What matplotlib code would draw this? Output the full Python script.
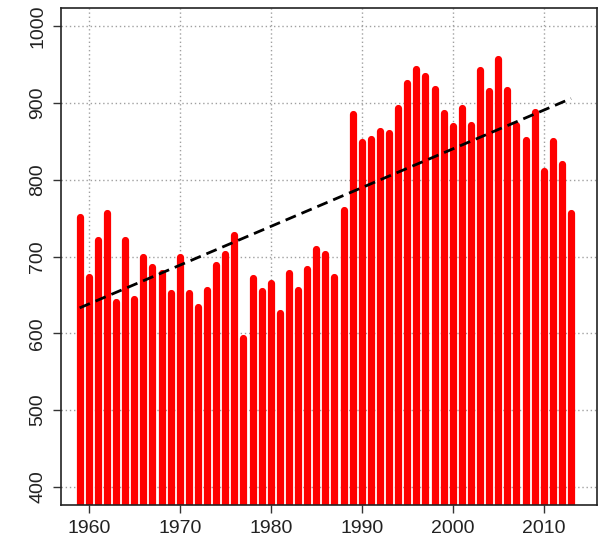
import matplotlib
matplotlib.use("Agg")
import matplotlib.pyplot as plt
import numpy as np

# yearly values
years = np.arange(1959, 2014)
values = [751, 673, 722, 757, 641, 722, 645, 700, 686, 678,
          653, 700, 653, 634, 656, 689, 703, 728, 594, 672,
          655, 666, 626, 679, 656, 684, 710, 703, 673, 760,
          886, 849, 853, 864, 861, 894, 926, 945, 935, 919,
          887, 870, 893, 871, 943, 916, 957, 917, 872, 852,
          888, 811, 850, 820, 757]

# dashed trend line end points
trend_years = [1959, 2013]
trend_values = [633, 906]

xticks = [1960, 1970, 1980, 1990, 2000, 2010]
yticks = [400, 500, 600, 700, 800, 900, 1000]

plt.rcParams['font.family'] = ['Liberation Sans', 'DejaVu Sans']

fig = plt.figure(figsize=(5.99, 5.46), dpi=100)
ax = fig.add_axes([61/599, 41/546, 536/599, 497/546])

ylo, yhi = 376, 1024
ax.set_xlim(1956.95, 2015.85)
ax.set_ylim(ylo, yhi)

for x in xticks:
    ax.axvline(x, color='#a0a0a0', linestyle=(0, (1, 2)), linewidth=1, zorder=1)
for y in yticks:
    ax.axhline(y, color='#a0a0a0', linestyle=(0, (1, 2)), linewidth=1, zorder=1)

ax.vlines(years, ylo, values, colors='#ff0000', linewidth=5.2,
          capstyle='round', zorder=2)
ax.plot(trend_years, trend_values, color='black', linewidth=2,
        linestyle=(0, (4, 2.2)), zorder=3)

ax.set_xticks(xticks)
ax.set_yticks(yticks)
ax.set_yticklabels([str(v) for v in yticks], rotation=90, va='center')
ax.tick_params(axis='both', direction='out', length=5.5, width=1,
               labelsize=14, labelcolor='#222222', color='#333333', pad=5)
for s in ax.spines.values():
    s.set_linewidth(1.2)
    s.set_color('#222222')

fig.savefig('out.png', dpi=100)
